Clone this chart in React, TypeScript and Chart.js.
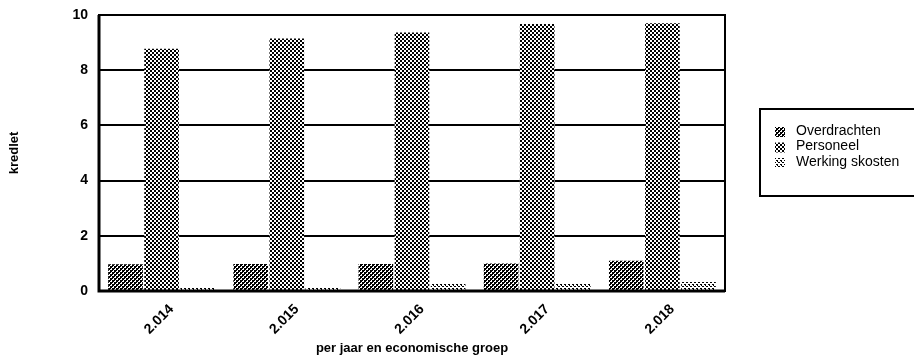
import React, { useEffect, useRef } from "react";
import { Chart, registerables } from "chart.js";

Chart.register(...registerables);

const categories = ["2.014", "2.015", "2.016", "2.017", "2.018"];
const overdrachten = [0.97, 0.98, 0.98, 1.0, 1.1];
const personeel = [8.78, 9.15, 9.37, 9.67, 9.7];
const werkingskosten = [0.13, 0.12, 0.25, 0.25, 0.33];
const seriesNames = ["Overdrachten", "Personeel", "Werking skosten"];
const yTicks = [0, 2, 4, 6, 8, 10];

function makePattern(kind: number): CanvasPattern | string {
  const c = document.createElement("canvas");
  c.width = 4;
  c.height = 4;
  const ctx = c.getContext("2d");
  if (!ctx) return "#555";
  ctx.fillStyle = "#fff";
  ctx.fillRect(0, 0, 4, 4);
  ctx.fillStyle = "#000";
  if (kind === 0) {
    ctx.fillRect(0, 0, 2, 2);
    ctx.fillRect(2, 2, 2, 2);
    ctx.fillRect(2, 0, 1, 1);
    ctx.fillRect(0, 2, 1, 1);
  } else if (kind === 1) {
    ctx.fillRect(0, 0, 2, 2);
    ctx.fillRect(2, 2, 2, 2);
  } else {
    ctx.fillRect(0, 0, 2, 1);
    ctx.fillRect(2, 2, 2, 1);
    ctx.fillRect(1, 1, 1, 1);
  }
  const p = ctx.createPattern(c, "repeat");
  return p || "#555";
}

const FONT = "'Liberation Sans', Arial, sans-serif";

export default function App() {
  const ref = useRef<HTMLCanvasElement>(null);
  useEffect(() => {
    if (!ref.current) return;
    const patterns = [makePattern(0), makePattern(1), makePattern(2)];
    const framePlugin = {
      id: "frame",
      afterDraw(chart: any) {
        const { ctx, chartArea } = chart;
        ctx.save();
        ctx.strokeStyle = "#000";
        ctx.lineWidth = 2;
        ctx.strokeRect(chartArea.left, chartArea.top, chartArea.right - chartArea.left, chartArea.bottom - chartArea.top);
        ctx.lineWidth = 3;
        ctx.beginPath();
        ctx.moveTo(chartArea.left, chartArea.top);
        ctx.lineTo(chartArea.left, chartArea.bottom);
        ctx.lineTo(chartArea.right, chartArea.bottom);
        ctx.stroke();
        // legend
        ctx.lineWidth = 2;
        ctx.strokeRect(760, 109, 170, 87);
        ctx.font = "14px " + FONT;
        ctx.textBaseline = "middle";
        ctx.fillStyle = "#000";
        const ys = [131, 146.5, 162];
        seriesNames.forEach((n, i) => {
          ctx.fillStyle = patterns[i] as any;
          ctx.fillRect(775, ys[i] - 4, 10, 10);
          ctx.fillStyle = "#000";
          ctx.fillText(n, 796, ys[i]);
        });
        ctx.restore();
      },
    };
    const chart = new Chart(ref.current, {
      type: "bar",
      data: {
        labels: categories,
        datasets: [
          { label: seriesNames[0], data: overdrachten, backgroundColor: patterns[0] as any },
          { label: seriesNames[1], data: personeel, backgroundColor: patterns[1] as any },
          { label: seriesNames[2], data: werkingskosten, backgroundColor: patterns[2] as any },
        ],
      },
      options: {
        animation: false,
        responsive: false,
        layout: { padding: { left: 0, right: 189, top: 15, bottom: 0 } },
        datasets: { bar: { categoryPercentage: 0.865, barPercentage: 0.96 } },
        plugins: { legend: { display: false }, tooltip: { enabled: false } },
        scales: {
          x: {
            grid: { display: false },
            border: { display: false },
            ticks: {
              color: "#000",
              font: { family: FONT, size: 14, weight: "bold" },
              maxRotation: 45,
              minRotation: 45,
              labelOffset: 10,
              padding: 2,
            },
            title: {
              display: true,
              text: "per jaar en economische groep",
              color: "#000",
              font: { family: FONT, size: 13, weight: "bold" },
              padding: { top: 0, bottom: 0 },
            },
            afterFit: (s: any) => {
              s.height = 65;
              s.paddingLeft = 0;
              s.paddingRight = 0;
            },
          },
          y: {
            min: 0,
            max: 10,
            afterBuildTicks: (s: any) => {
              s.ticks = yTicks.map((v) => ({ value: v }));
            },
            grid: { color: "#000", lineWidth: 2, drawTicks: false },
            border: { display: false },
            ticks: {
              color: "#000",
              font: { family: FONT, size: 14, weight: "bold" },
              padding: 11,
            },
            title: {
              display: true,
              text: "kredlet",
              color: "#000",
              font: { family: FONT, size: 13, weight: "bold" },
              padding: { top: 7, bottom: 0 },
            },
            afterFit: (s: any) => {
              s.width = 99;
              s.paddingTop = 0;
              s.paddingBottom = 0;
            },
          },
        },
      },
      plugins: [framePlugin],
    });
    return () => chart.destroy();
  }, []);
  return (
    <div style={{ position: "fixed", left: 0, top: 0, width: 914, height: 356, background: "#fff" }}>
      <canvas ref={ref} width={914} height={356} style={{ display: "block" }} />
    </div>
  );
}
